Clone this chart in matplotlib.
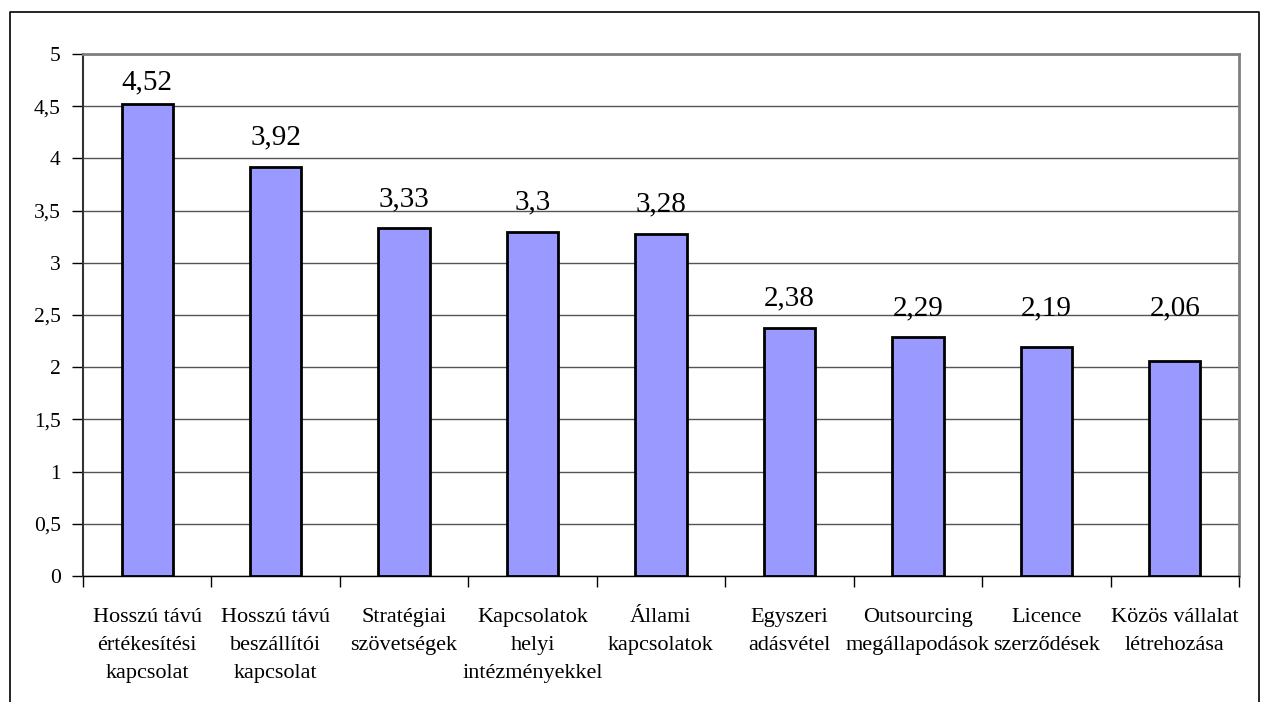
import matplotlib
matplotlib.use("Agg")
import matplotlib.pyplot as plt
import numpy as np
from matplotlib.lines import Line2D
from matplotlib.ticker import FuncFormatter, MultipleLocator

categories = [
    "Hosszú távú\nértékesítési\nkapcsolat",
    "Hosszú távú\nbeszállítói\nkapcsolat",
    "Stratégiai\nszövetségek",
    "Kapcsolatok\nhelyi\nintézményekkel",
    "Állami\nkapcsolatok",
    "Egyszeri\nadásvétel",
    "Outsourcing\nmegállapodások",
    "Licence\nszerződések",
    "Közös vállalat\nlétrehozása",
]
values = [4.52, 3.92, 3.33, 3.3, 3.28, 2.38, 2.29, 2.19, 2.06]
value_labels = ["4,52", "3,92", "3,33", "3,3", "3,28", "2,38", "2,29", "2,19", "2,06"]

plt.rcParams["font.family"] = ["Liberation Serif", "DejaVu Serif"]

fig = plt.figure(figsize=(12.63, 7.02), dpi=100)
ax = fig.add_axes([0.0657, 0.1795, 0.9153, 0.7435])

x = np.arange(len(values))
ax.bar(x, values, width=0.4, color="#9999FF", edgecolor="black", linewidth=2, zorder=3)

# label baselines: a fixed gap above each bar, kept within a band
label_gap, label_floor, label_ceil = 0.21, 2.5, 4.66
label_y = np.clip(np.array(values) + label_gap, label_floor, label_ceil)
for xi, ly, lab in zip(x, label_y, value_labels):
    ax.text(xi, ly, lab, ha="center", va="baseline", fontsize=21, zorder=4)

ax.set_xlim(-0.5, len(values) - 0.5)
ax.set_ylim(0, 5)
ax.yaxis.set_major_locator(MultipleLocator(0.5))
ax.yaxis.set_major_formatter(FuncFormatter(lambda v, p: f"{v:g}".replace(".", ",")))
ax.grid(axis="y", color="#555555", linewidth=1, zorder=0)
ax.set_axisbelow(True)

# category labels sit between boundary ticks
ax.set_xticks(x)
ax.set_xticklabels(categories, fontsize=16, linespacing=1.65)
ax.tick_params(axis="x", length=0, pad=23)
ax.set_xticks(np.arange(len(values) + 1) - 0.5, minor=True)
ax.tick_params(axis="x", which="minor", length=8, width=1, color="black", direction="out")
ax.tick_params(axis="y", length=8, width=1, direction="out", labelsize=15.5, pad=8)

ax.spines["left"].set_color("#333333")
ax.spines["left"].set_linewidth(1.5)
ax.spines["bottom"].set_color("black")
ax.spines["bottom"].set_linewidth(1)
ax.spines["top"].set_color("#808080")
ax.spines["top"].set_linewidth(2)
ax.spines["right"].set_color("#808080")
ax.spines["right"].set_linewidth(2)

# outer chart frame (open at the bottom)
fx0, fx1 = 10 / 1263, 1259 / 1263
fy1 = 1 - 12 / 702
fig.add_artist(Line2D([fx0, fx0, fx1, fx1], [0, fy1, fy1, 0], color="black",
                      linewidth=1.2, transform=fig.transFigure))

fig.savefig("out.png", dpi=100, facecolor="white")
